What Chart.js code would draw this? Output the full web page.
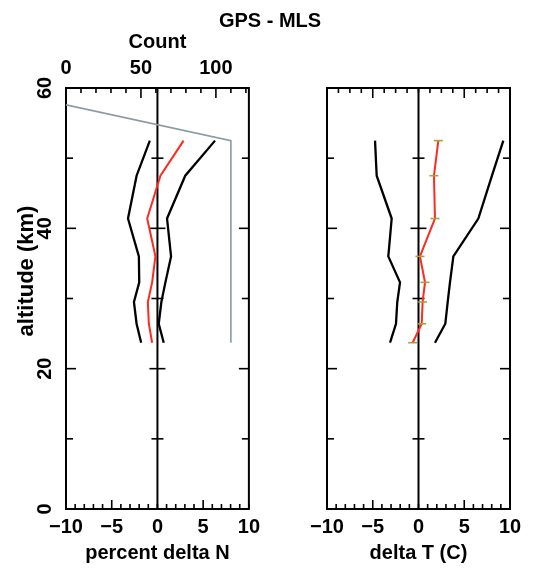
<!DOCTYPE html>
<html><head><meta charset="utf-8">
<script src="https://cdn.jsdelivr.net/npm/chart.js@4"></script>
<style>
html,body{margin:0;padding:0;background:#fff;}
#wrap{position:relative;width:533px;height:569px;overflow:hidden;background:#fff;}
canvas{position:absolute;top:0;}
#title{position:absolute;left:165px;width:210px;top:9px;line-height:24px;text-align:center;font:bold 20px "Liberation Sans",Arial,sans-serif;color:#000;}
</style></head><body>
<div id="wrap">
<canvas id="left" width="266" height="569" style="left:0"></canvas>
<canvas id="right" width="267" height="569" style="left:266px"></canvas>
<div id="title">GPS - MLS</div>
</div>
<script>
// ---- data ----
const altitudeKm   = [23.7, 26.4, 29.5, 32.3, 36.0, 41.4, 47.5, 52.5];
const deltaN_low   = [-1.78, -2.28, -2.57, -1.99, -2.03, -3.22, -2.28, -0.83];
const deltaN_mean  = [-0.58, -0.94, -1.05, -0.58, -0.22, -1.12, 0.33, 2.86];
const deltaN_high  = [0.69, 0.14, 0.43, 0.87, 1.49, 1.05, 3.04, 6.30];
const countAltKm   = [57.6, 52.5, 23.7];
const countValues  = [0, 110, 110];
const deltaT_low   = [-3.11, -2.46, -2.32, -2.02, -3.30, -2.93, -4.57, -4.75];
const deltaT_mean  = [-0.64, 0.35, 0.45, 0.71, 0.16, 1.80, 1.69, 2.17];
const deltaT_high  = [1.80, 2.93, 3.19, 3.44, 3.81, 6.54, 8.03, 9.27];

// ---- tick labels ----
const deltaTickLabels = ['\u221210', '\u22125', '0', '5', '10'];
const countTickLabels = ['0', '50', '100'];
const altTickLabels   = ['0', '20', '40', '60'];

Chart.defaults.font = {family: '"Liberation Sans", Arial, sans-serif', size: 20, weight: 'bold'};
Chart.defaults.color = '#000';

function pts(xs, ys) { return ys.map((a, i) => ({x: xs[i], y: a})); }
function range(a, b, s) { const r = []; for (let v = a; v <= b + 1e-9; v += s) r.push(Math.round(v * 1000) / 1000); return r; }

const framePlugin = {
  id: 'frame',
  beforeDatasetsDraw(chart, args, o) {
    const {ctx, chartArea: a, scales} = chart;
    const xs = scales[o.bottomScale], ts = scales[o.topScale], ys = scales.y;
    ctx.save();
    ctx.strokeStyle = '#000';
    ctx.lineCap = 'butt';
    const seg = (x1, y1, x2, y2) => { ctx.beginPath(); ctx.moveTo(x1, y1); ctx.lineTo(x2, y2); ctx.stroke(); };
    ctx.lineWidth = 1.6;
    o.bottomTicks.forEach(v => {
      const p = xs.getPixelForValue(v);
      const L = o.bottomMajor.includes(v) ? 9 : 5;
      seg(p, a.bottom, p, a.bottom - L);
    });
    o.topTicks.forEach(v => {
      const p = ts.getPixelForValue(v);
      const L = o.topMajor.includes(v) ? 10 : 5;
      seg(p, a.top, p, a.top + L);
    });
    const zx = xs.getPixelForValue(0);
    o.yTicks.forEach(v => {
      const p = ys.getPixelForValue(v);
      const maj = o.yMajor.includes(v);
      const L = maj ? 10 : 7, C = maj ? 8 : 6;
      seg(a.left, p, a.left + L, p);
      seg(a.right, p, a.right - L, p);
      seg(zx - C, p, zx + C, p);
    });
    ctx.lineWidth = 2;
    seg(zx, a.top, zx, a.bottom);
    ctx.strokeRect(a.left, a.top, a.right - a.left, a.bottom - a.top);
    ctx.restore();
  }
};

const lineDs = (data, color, width, axis) => ({
  data, xAxisID: axis || 'x', yAxisID: 'y', borderColor: color, backgroundColor: color,
  borderWidth: width, showLine: true, pointRadius: 0, fill: false, tension: 0
});

const commonY = (withLabels) => ({
  type: 'linear', position: 'left', min: 0, max: 60,
  grid: {display: false, drawTicks: false}, border: {display: false},
  ticks: withLabels ? {
    stepSize: 20, minRotation: 90, maxRotation: 90, crossAlign: 'center', padding: 9,
    callback: (v, i) => altTickLabels[i]
  } : {display: false, stepSize: 10},
  title: withLabels ? {display: true, text: '         altitude (km)', font: {size: 22, weight: 'bold'}, padding: {top: 14, bottom: 0}} : {display: false},
  afterFit: s => { s.width = withLabels ? 66 : 61; }
});

const deltaX = (titleText) => ({
  type: 'linear', position: 'bottom', min: -10, max: 10,
  grid: {display: false, drawTicks: false}, border: {display: false},
  ticks: {stepSize: 5, autoSkip: false, padding: 6, maxRotation: 0, callback: (v, i) => deltaTickLabels[i]},
  title: {display: true, text: titleText, padding: {top: 0, bottom: 4}},
  afterFit: s => { s.height = 60; }
});

new Chart(document.getElementById('left'), {
  type: 'scatter',
  data: {datasets: [
    lineDs(pts(deltaN_mean, altitudeKm), '#ff2a1f', 2),
    lineDs(pts(deltaN_low, altitudeKm), '#000', 2.3),
    lineDs(pts(deltaN_high, altitudeKm), '#000', 2.3),
    lineDs(pts(countValues, countAltKm), '#8a9ba6', 1.6, 'count')
  ]},
  options: {
    responsive: false, animation: false, devicePixelRatio: 1,
    layout: {padding: {left: 0, right: 16, top: 0, bottom: 0}},
    plugins: {
      legend: {display: false}, tooltip: {enabled: false},
      frame: {
        bottomScale: 'x', bottomTicks: range(-10, 10, 1), bottomMajor: [-5, 5],
        topScale: 'count', topTicks: range(10, 120, 10), topMajor: [50, 100],
        yTicks: [10, 20, 30, 40, 50], yMajor: [20, 40]
      }
    },
    scales: {
      x: deltaX('percent delta N'),
      count: {
        type: 'linear', axis: 'x', position: 'top', min: 0, max: 122,
        grid: {display: false, drawTicks: false}, border: {display: false},
        ticks: {stepSize: 50, includeBounds: false, autoSkip: false, padding: 8, maxRotation: 0, callback: (v, i) => countTickLabels[i]},
        title: {display: true, text: 'Count', padding: {top: 30, bottom: 0}},
        afterFit: s => { s.height = 88; }
      },
      y: commonY(true)
    }
  },
  plugins: [framePlugin]
});

new Chart(document.getElementById('right'), {
  type: 'scatter',
  data: {datasets: [
    Object.assign(lineDs(pts(deltaT_mean, altitudeKm), '#ff2a1f', 2), {
      pointRadius: 4.5, pointStyle: 'line', pointBorderColor: '#a4a43a', pointBorderWidth: 1.6
    }),
    lineDs(pts(deltaT_low, altitudeKm), '#000', 2.3),
    lineDs(pts(deltaT_high, altitudeKm), '#000', 2.3)
  ]},
  options: {
    responsive: false, animation: false, devicePixelRatio: 1,
    layout: {padding: {left: 0, right: 23, top: 88, bottom: 0}},
    plugins: {
      legend: {display: false}, tooltip: {enabled: false},
      frame: {
        bottomScale: 'x', bottomTicks: range(-10, 10, 1), bottomMajor: [-5, 5],
        topScale: 'x', topTicks: range(-8.75, 8.75, 1.25), topMajor: [-5, 5],
        yTicks: [10, 20, 30, 40, 50], yMajor: [20, 40]
      }
    },
    scales: {
      x: deltaX('delta T (C)'),
      y: commonY(false)
    }
  },
  plugins: [framePlugin]
});
</script>
</body></html>
